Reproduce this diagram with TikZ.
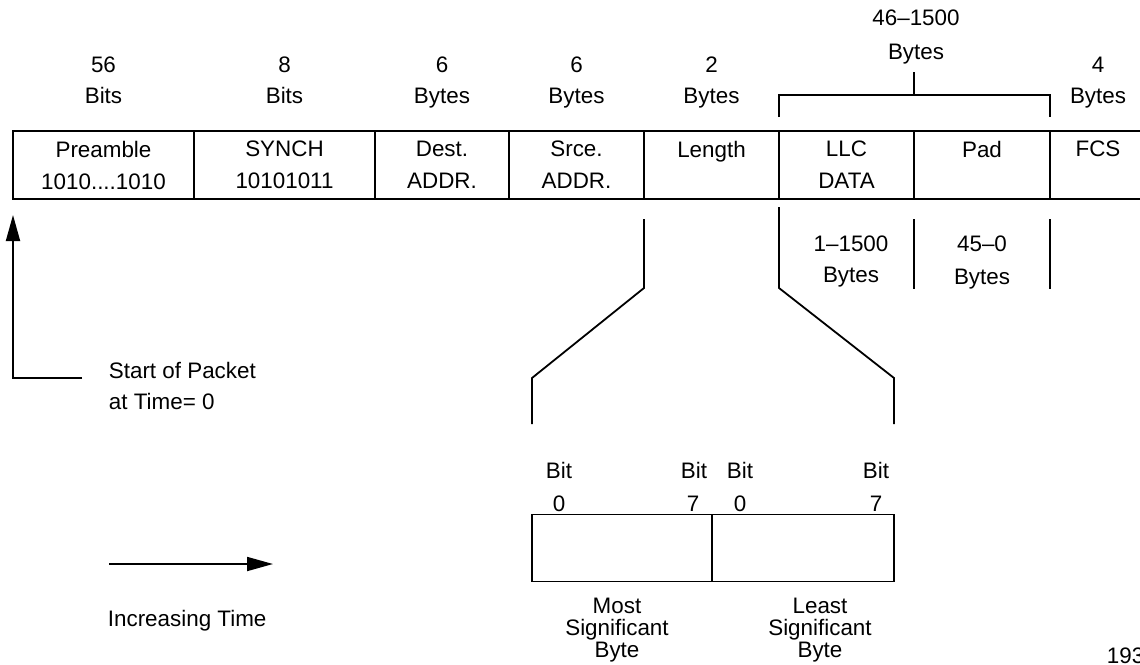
\documentclass[tikz,border=0pt]{standalone}
\usepackage{fontspec}
\setmainfont{Liberation Sans}
\usetikzlibrary{positioning,arrows.meta}

\begin{document}
\begin{tikzpicture}[x=1pt,y=-1pt,line width=1.8pt,>={Triangle[length=26pt,width=14pt]},node distance=31pt,
    font=\fontsize{22.4}{32}\selectfont,
    field/.style={draw,rectangle,minimum height=68pt,outer sep=0pt,inner sep=0pt,align=center},
    lbl/.style={inner sep=0pt,text height=16pt,text depth=4pt}]
    \useasboundingbox (0,0) rectangle (1140,664);

    % frame fields
    \node[field,minimum width=181pt,anchor=west] (pre) at (13,165) {Preamble\\1010....1010};
    \node[field,minimum width=181pt] (syn) [right=0pt of pre] {SYNCH\\10101011};
    \node[field,minimum width=134pt] (dst) [right=0pt of syn] {Dest.\\ADDR.};
    \node[field,minimum width=135pt] (src) [right=0pt of dst] {Srce.\\ADDR.};
    \node[field,minimum width=135pt] (len) [right=0pt of src] {Length\\\phantom{A}};
    \node[field,minimum width=135pt] (llc) [right=0pt of len] {LLC\\DATA};
    \node[field,minimum width=136pt] (pad) [right=0pt of llc] {Pad\\\phantom{A}};
    \node[field,minimum width=96pt] (fcs) [right=0pt of pad] {FCS\\\phantom{A}};

    % sizes above
    \node[lbl] (pre-u) at ([yshift=34pt]pre.north) {Bits};
    \node[lbl] (pre-n) [above of=pre-u] {56};
    \node[lbl] (syn-u) at ([yshift=34pt]syn.north) {Bits};
    \node[lbl] (syn-n) [above of=syn-u] {8};
    \node[lbl] (dst-u) at ([yshift=34pt]dst.north) {Bytes};
    \node[lbl] (dst-n) [above of=dst-u] {6};
    \node[lbl] (src-u) at ([yshift=34pt]src.north) {Bytes};
    \node[lbl] (src-n) [above of=src-u] {6};
    \node[lbl] (len-u) at ([yshift=34pt]len.north) {Bytes};
    \node[lbl] (len-n) [above of=len-u] {2};
    \node[lbl] (fcs-u) at ([yshift=34pt]fcs.north) {Bytes};
    \node[lbl] (fcs-n) [above of=fcs-u] {4};
    \node[lbl] (data-u) at (916,53) {Bytes};
    \node[lbl] (data-n) [above of=data-u,node distance=34pt] {46--1500};

    % bracket over data + pad
    \coordinate (brl) at ([yshift=14pt]llc.north west);
    \coordinate (brr) at ([yshift=14pt]pad.north east);
    \draw (brl) -- ++(0,-22) -| (brr);
    \draw (pad.north west |- 0,95) -- (pad.north west |- 0,72);

    % sizes below
    \node[lbl] (llc-n) at (851,245) {1--1500};
    \node[lbl] (llc-u) [below of=llc-n] {Bytes};
    \node[lbl] (pad-n) at (982,245) {45--0};
    \node[lbl] (pad-u) [below of=pad-n,node distance=33pt] {Bytes};
    \draw (pad.south west |- 0,219) -- (pad.south west |- 0,289);
    \draw (fcs.south west |- 0,219) -- (fcs.south west |- 0,289);

    % length field in detail
    \node[field,minimum width=180pt,minimum height=67pt,anchor=west] (msb) at (532,548) {};
    \node[field,minimum width=182pt,minimum height=67pt] (lsb) [right=0pt of msb] {};
    \draw (len.south west |- 0,219) -- (len.south west |- 0,288) -- (msb.north west |- 0,378) -- (msb.north west |- 0,424);
    \draw (len.south east |- 0,207) -- (len.south east |- 0,288) -- (lsb.north east |- 0,378) -- (lsb.north east |- 0,424);

    \node[lbl] (b1) at (559,472) {Bit};
    \node[lbl] (b2) at (694,472) {Bit};
    \node[lbl] (b3) at (740,472) {Bit};
    \node[lbl] (b4) at (876,472) {Bit};
    \node[lbl] (d1) [below of=b1,node distance=33pt] {0};
    \node[lbl] (d2) [below of=b2,node distance=33pt,xshift=-1pt] {7};
    \node[lbl] (d3) [below of=b3,node distance=33pt] {0};
    \node[lbl] (d4) [below of=b4,node distance=33pt] {7};

    \node[inner sep=0pt,align=center,font=\fontsize{22.4}{22}\selectfont] (msb-t) at (617,630) {Most\\Significant\\Byte};
    \node[inner sep=0pt,align=center,font=\fontsize{22.4}{22}\selectfont] (lsb-t) at (820,630) {Least\\Significant\\Byte};

    % time arrows
    \coordinate (t0) at (13,378);
    \coordinate (t1) at (82,378);
    \coordinate (t2) at (13,215);
    \draw[->] (t1) -- (t0) -- (t2);
    \node[lbl,anchor=west] (st1) at (108,372) {Start of Packet};
    \node[lbl,anchor=west] (st2) at (108,403) {at Time= 0};

    \coordinate (i0) at (109,564);
    \coordinate (i1) at (273,564);
    \draw[->] (i0) -- (i1);
    \node[lbl,anchor=west] (inc) at (107,620) {Increasing Time};

    \node[lbl,anchor=west] (fig) at (1106,657) {1930};
\end{tikzpicture}
\end{document}
